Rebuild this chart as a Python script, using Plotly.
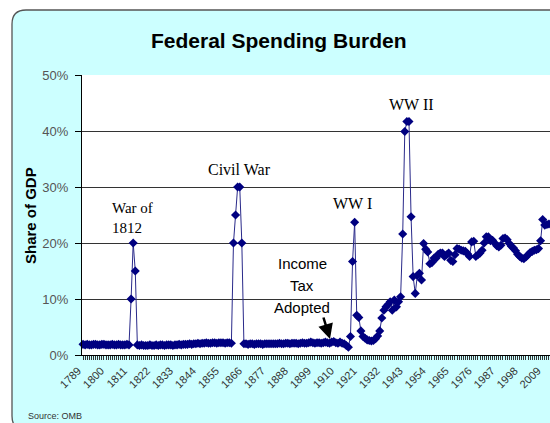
import plotly.graph_objects as go

# ---------------- data ----------------
years = list(range(1789, 2013))

share_of_gdp = [
    # 1789-1799
    1.9, 1.8, 1.9, 1.8, 1.8, 1.9, 1.9, 1.8, 1.8, 1.9, 1.9,
    # 1800s
    1.8, 1.8, 1.8, 1.9, 1.8, 1.8, 1.9, 1.8, 1.8, 1.8,
    # 1810s
    1.9, 1.8, 10.0, 20.0, 15.0, 1.8, 1.7, 1.8, 1.7, 1.7,
    # 1820s
    1.7, 1.8, 1.7, 1.7, 1.8, 1.7, 1.8, 1.8, 1.7, 1.8,
    # 1830s
    1.8, 1.8, 1.7, 1.8, 1.8, 1.9, 1.8, 1.9, 1.9, 1.9,
    # 1840s
    2.0, 1.9, 2.0, 2.0, 2.1, 2.0, 2.1, 2.1, 2.2, 2.1,
    # 1850s
    2.1, 2.2, 2.2, 2.1, 2.2, 2.2, 2.2, 2.1, 2.2, 2.2,
    # 1860s
    2.1, 20.0, 25.0, 30.0, 30.0, 20.0, 2.0, 2.0, 1.9, 2.0,
    # 1870s
    2.0, 1.9, 2.0, 2.0, 2.0, 1.9, 2.0, 2.0, 2.0, 2.0,
    # 1880s
    2.0, 2.0, 2.0, 2.1, 2.0, 2.0, 2.1, 2.1, 2.0, 2.1,
    # 1890s
    2.1, 2.1, 2.0, 2.1, 2.2, 2.1, 2.1, 2.2, 2.3, 2.2,
    # 1900s
    2.1, 2.2, 2.2, 2.1, 2.2, 2.3, 2.2, 2.1, 2.3, 2.4,
    # 1910s
    2.2, 2.1, 2.3, 2.1, 2.0, 1.7, 1.4, 3.3, 16.7, 23.7,
    # 1920s
    7.1, 6.7, 4.3, 3.3, 3.0, 2.7, 2.6, 2.5, 2.6, 2.9,
    # 1930s
    3.4, 4.3, 6.6, 8.0, 8.6, 9.0, 9.5, 8.0, 9.8, 8.6,
    # 1940s
    9.5, 10.4, 21.6, 39.9, 41.7, 41.7, 24.7, 14.0, 11.0, 14.2,
    # 1950s
    14.6, 13.4, 19.9, 18.9, 18.4, 16.3, 16.5, 17.3, 17.3, 18.0,
    # 1960s
    18.2, 18.2, 17.6, 17.9, 18.2, 16.9, 16.7, 17.9, 19.0, 18.9,
    # 1970s
    18.7, 18.6, 18.5, 18.1, 17.6, 20.2, 20.3, 17.6, 17.9, 18.2,
    # 1980s
    18.7, 20.0, 21.1, 21.1, 20.4, 20.5, 20.0, 19.5, 19.3, 19.6,
    # 1990s
    20.8, 20.9, 20.6, 19.9, 19.4, 19.1, 18.6, 18.0, 17.6, 17.3,
    # 2000s
    17.2, 17.5, 17.9, 18.3, 18.5, 18.7, 18.8, 19.0, 20.4, 24.2,
    # 2010-2012
    23.2, 23.3, 23.4,
]

label_years = list(range(1789, 2013, 11))
y_ticks = [0, 10, 20, 30, 40, 50]
y_tick_labels = ["0%", "10%", "20%", "30%", "40%", "50%"]

# ---------------- layout helpers ----------------
W, H = 550, 423
L, T, R, B = 82, 75, 550, 355


def px(x):
    return (x - L) / (R - L)


def py(y):
    return (B - y) / (B - T)


SANS = "Liberation Sans, Arial, sans-serif"
SERIF = "Liberation Serif, Times New Roman, serif"

fig = go.Figure()
fig.add_trace(go.Scatter(
    x=years, y=share_of_gdp, mode="lines+markers",
    line=dict(color="#2a2a8a", width=1),
    marker=dict(symbol="diamond", size=7, color="#000080"),
    cliponaxis=False, hoverinfo="skip",
))

# rounded cyan chart box + white plot area
r = 14
box = (
    f"M {px(12)},{py(10 + r)} Q {px(12)},{py(10)} {px(12 + r)},{py(10)} "
    f"L {px(570)},{py(10)} L {px(570)},{py(430)} L {px(12 + r)},{py(430)} "
    f"Q {px(12)},{py(430)} {px(12)},{py(430 - r)} Z"
)
fig.add_shape(type="path", path=box, xref="paper", yref="paper",
              fillcolor="#CCFFFF", line=dict(color="#555555", width=1.3), layer="below")
fig.add_shape(type="rect", x0=0, x1=1, y0=0, y1=1, xref="paper", yref="paper",
              fillcolor="white", line=dict(width=0), layer="below")

ann = []
ann.append(dict(text="<b>Federal Spending Burden</b>", x=px(279), y=py(40), xref="paper", yref="paper",
                showarrow=False, font=dict(family=SANS, size=21, color="black"),
                xanchor="center", yanchor="middle"))
ann.append(dict(text="<b>Share of GDP</b>", x=px(30), y=py(216), xref="paper", yref="paper",
                showarrow=False, textangle=-90, font=dict(family=SANS, size=15, color="black"),
                xanchor="center", yanchor="middle"))
ann.append(dict(text="Source: OMB", x=px(26), y=py(416), xref="paper", yref="paper",
                showarrow=False, font=dict(family=SANS, size=9, color="#333333"),
                xanchor="left", yanchor="middle"))
ann.append(dict(text="War of<br>1812", x=px(110), y=py(218), xref="paper", yref="paper",
                showarrow=False, align="left", font=dict(family=SERIF, size=15, color="black"),
                xanchor="left", yanchor="middle"))
ann.append(dict(text="Civil War", x=px(239), y=py(169), xref="paper", yref="paper",
                showarrow=False, font=dict(family=SERIF, size=16, color="black"),
                xanchor="center", yanchor="middle"))
ann.append(dict(text="WW I", x=px(352), y=py(203), xref="paper", yref="paper",
                showarrow=False, font=dict(family=SERIF, size=16, color="black"),
                xanchor="center", yanchor="middle"))
ann.append(dict(text="WW II", x=px(411), y=py(105), xref="paper", yref="paper",
                showarrow=False, font=dict(family=SERIF, size=16, color="black"),
                xanchor="center", yanchor="middle"))
for txt, yy in [("Income", 263), ("Tax", 285), ("Adopted", 307)]:
    ann.append(dict(text=txt, x=px(302), y=py(yy), xref="paper", yref="paper",
                    showarrow=False, font=dict(family=SANS, size=15, color="black"),
                    xanchor="center", yanchor="middle"))
ann.append(dict(text="", x=px(330), y=py(339), xref="paper", yref="paper",
                ax=-7, ay=-23, showarrow=True, arrowhead=2, arrowsize=1.2,
                arrowwidth=2.5, arrowcolor="black"))

fig.update_layout(
    width=W, height=H,
    margin=dict(l=L, r=W - R, t=T, b=H - B, pad=0),
    paper_bgcolor="white", plot_bgcolor="rgba(0,0,0,0)",
    showlegend=False,
    annotations=ann,
    xaxis=dict(
        range=[1788.5, 2012.5],
        tickmode="array", tickvals=years,
        ticktext=[str(y) if y in label_years else "" for y in years],
        tickangle=-45, ticks="outside", ticklen=4, tickwidth=1, tickcolor="#333333",
        showline=True, linecolor="black", linewidth=1,
        showgrid=False, zeroline=False,
        tickfont=dict(family=SANS, size=11, color="#333333"),
        ticklabelshift=-5,
    ),
    yaxis=dict(
        range=[0, 50], tickmode="array", tickvals=y_ticks, ticktext=y_tick_labels,
        ticks="outside", ticklen=6, tickcolor="black",
        showline=True, linecolor="black", linewidth=1,
        showgrid=True, gridcolor="#333333", gridwidth=1, zeroline=False,
        tickfont=dict(family=SANS, size=13, color="#555555"),
        ticklabelstandoff=4,
    ),
)

fig.write_html(
    "out.html",
    config={"displayModeBar": False, "staticPlot": True},
    post_script=(
        "document.documentElement.style.margin='0';"
        "document.documentElement.style.overflow='hidden';"
        "document.body.style.margin='0';"
        "document.body.style.padding='0';"
        "document.body.style.overflow='hidden';"
    ),
)
